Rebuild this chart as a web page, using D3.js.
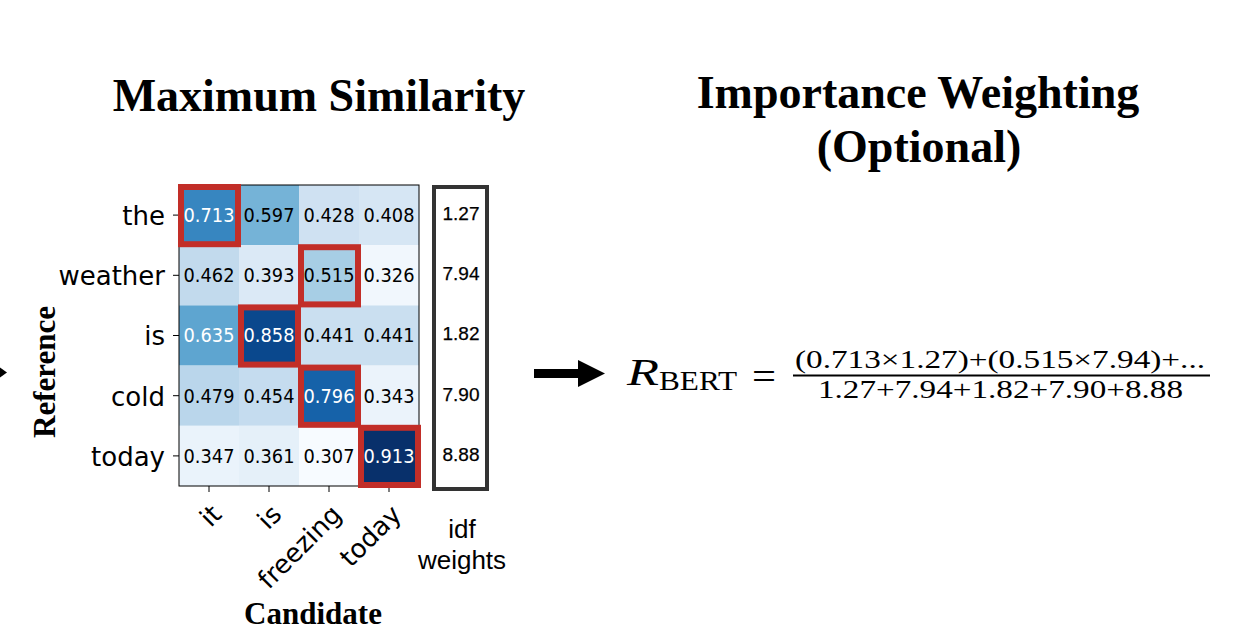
<!DOCTYPE html>
<html>
<head>
<meta charset="UTF-8">
<title>BERTScore - Maximum Similarity</title>
<script src="https://d3js.org/d3.v7.min.js"></script>
<style>
  body { margin: 0; background: #fff; }
  svg { display: block; }
</style>
</head>
<body>
<svg width="1234" height="641"></svg>
<script>
// 数据
var candidates = ["it", "is", "freezing", "today"];
var references = ["the", "weather", "is", "cold", "today"];
var similarity = [
  [0.713, 0.597, 0.428, 0.408],
  [0.462, 0.393, 0.515, 0.326],
  [0.635, 0.858, 0.441, 0.441],
  [0.479, 0.454, 0.796, 0.343],
  [0.347, 0.361, 0.307, 0.913]
];
var idfWeights = [1.27, 7.94, 1.82, 7.90, 8.88];

var serif = "'Liberation Serif', 'Times New Roman', serif";
var sans = "'DejaVu Sans', sans-serif";
var arial = "'Liberation Sans', Arial, sans-serif";

var svg = d3.select("svg");

// 热力图区域
var hm = { left: 179, top: 185, right: 419, bottom: 486 };

var x = d3.scaleBand().domain(candidates).range([hm.left, hm.right]);
var y = d3.scaleBand().domain(references).range([hm.top, hm.bottom]);

var flat = d3.merge(similarity);
var color = d3.scaleSequential(d3.interpolateBlues).domain(d3.extent(flat));
var mid = (d3.min(flat) + d3.max(flat)) / 2;

var cells = [];
similarity.forEach(function(row, i) {
  row.forEach(function(v, j) {
    cells.push({ r: references[i], c: candidates[j], ri: i, v: v });
  });
});

// 每行最大值（红框）
var best = similarity.map(function(row, i) {
  var j = d3.maxIndex(row);
  return { r: references[i], c: candidates[j], v: row[j], w: idfWeights[i] };
});

svg.append("g").selectAll("rect")
  .data(cells).enter().append("rect")
  .attr("x", function(d) { return x(d.c); })
  .attr("y", function(d) { return y(d.r); })
  .attr("width", x.bandwidth())
  .attr("height", y.bandwidth())
  .attr("fill", function(d) { return color(d.v); });

svg.append("g").selectAll("text")
  .data(cells).enter().append("text")
  .attr("x", function(d) { return x(d.c) + x.bandwidth() / 2; })
  .attr("y", function(d) { return y(d.r) + y.bandwidth() / 2; })
  .attr("dy", "0.36em")
  .attr("text-anchor", "middle")
  .attr("font-family", sans)
  .attr("font-size", "19px")
  .attr("textLength", 51).attr("lengthAdjust", "spacingAndGlyphs")
  .attr("fill", function(d) { return d.v > mid ? "#ffffff" : "#000000"; })
  .text(function(d) { return d.v.toFixed(3); });

// 边框
svg.append("rect")
  .attr("x", hm.left).attr("y", hm.top)
  .attr("width", hm.right - hm.left).attr("height", hm.bottom - hm.top)
  .attr("fill", "none").attr("stroke", "#000").attr("stroke-width", 1);

// 坐标轴
var yAxis = svg.append("g")
  .attr("transform", "translate(" + hm.left + ",0)")
  .call(d3.axisLeft(y).tickSize(6).tickPadding(8));
yAxis.select(".domain").remove();
yAxis.selectAll("text")
  .attr("font-family", sans).attr("font-size", "26px").attr("fill", "#000")
  .attr("dy", "0.38em");

var xAxis = svg.append("g")
  .attr("transform", "translate(0," + hm.bottom + ")")
  .call(d3.axisBottom(x).tickSize(6));
xAxis.select(".domain").remove();
xAxis.selectAll("text")
  .attr("font-family", sans).attr("font-size", "26px").attr("fill", "#000")
  .attr("text-anchor", "end")
  .attr("y", 0).attr("dy", 0)
  .attr("transform", "translate(14,30) rotate(-45)");

// 红框
svg.append("g").selectAll("rect")
  .data(best).enter().append("rect")
  .attr("x", function(d) { return x(d.c) + 2; })
  .attr("y", function(d) { return y(d.r) + 2; })
  .attr("width", x.bandwidth() - 3)
  .attr("height", y.bandwidth() - 3)
  .attr("fill", "none")
  .attr("stroke", "#c22e28")
  .attr("stroke-width", 6);

// idf 权重
svg.append("rect")
  .attr("x", 434).attr("y", 187)
  .attr("width", 53).attr("height", 302)
  .attr("fill", "none").attr("stroke", "#333").attr("stroke-width", 4);

svg.append("g").selectAll("text")
  .data(idfWeights).enter().append("text")
  .attr("x", 461)
  .attr("y", function(d, i) { return y(references[i]) + y.bandwidth() / 2 - 2; })
  .attr("dy", "0.36em")
  .attr("text-anchor", "middle")
  .attr("font-family", arial)
  .attr("font-size", "19px")
  .attr("fill", "#000")
  .attr("stroke", "#000").attr("stroke-width", 0.25)
  .text(function(d) { return d.toFixed(2); });

var idfLabel = svg.append("text")
  .attr("text-anchor", "middle")
  .attr("font-family", arial)
  .attr("font-size", "26px")
  .attr("fill", "#000");
idfLabel.append("tspan").attr("x", 462).attr("y", 538).text("idf");
idfLabel.append("tspan").attr("x", 462).attr("y", 569).text("weights");

// 轴标题
svg.append("text")
  .attr("x", 313).attr("y", 624)
  .attr("text-anchor", "middle")
  .attr("font-family", serif).attr("font-weight", "bold").attr("font-size", "31px")
  .text("Candidate");

svg.append("text")
  .attr("transform", "translate(55,372) rotate(-90)")
  .attr("text-anchor", "middle")
  .attr("font-family", serif).attr("font-weight", "bold").attr("font-size", "31px")
  .text("Reference");

// 左侧被截断的箭头
svg.append("path").attr("d", "M0,367.5L7,372.5L0,377.5Z").attr("fill", "#000");

// 标题
svg.append("text")
  .attr("x", 319).attr("y", 111)
  .attr("text-anchor", "middle")
  .attr("font-family", serif).attr("font-weight", "bold").attr("font-size", "46px")
  .text("Maximum Similarity");

var t2 = svg.append("text")
  .attr("text-anchor", "middle")
  .attr("font-family", serif).attr("font-weight", "bold").attr("font-size", "46px");
t2.append("tspan").attr("x", 918).attr("y", 108).text("Importance Weighting");
t2.append("tspan").attr("x", 919).attr("y", 162).text("(Optional)");

// 粗箭头
svg.append("rect").attr("x", 534).attr("y", 369).attr("width", 46).attr("height", 9).attr("fill", "#000");
svg.append("path").attr("d", "M578,360L605,373.5L578,387Z").attr("fill", "#000");

// 公式
svg.append("text")
  .attr("x", 627).attr("y", 385)
  .attr("font-family", serif).attr("font-style", "italic").attr("font-size", "38px")
  .attr("textLength", 32).attr("lengthAdjust", "spacingAndGlyphs")
  .text("R");
svg.append("text")
  .attr("x", 659).attr("y", 390)
  .attr("font-family", serif).attr("font-size", "28px")
  .attr("textLength", 78).attr("lengthAdjust", "spacingAndGlyphs")
  .text("BERT");
svg.append("text")
  .attr("x", 752).attr("y", 389)
  .attr("font-family", serif).attr("font-size", "38px")
  .attr("textLength", 24).attr("lengthAdjust", "spacingAndGlyphs")
  .text("=");

var numerator = best.slice(0, 2).map(function(d) {
  return "(" + d.v.toFixed(3) + "\u00d7" + d.w.toFixed(2) + ")";
}).join("+") + "+...";
var denominator = idfWeights.map(function(d) { return d.toFixed(2); }).join("+");

svg.append("text")
  .attr("x", 795).attr("y", 368)
  .attr("font-family", serif).attr("font-size", "25px")
  .attr("textLength", 410).attr("lengthAdjust", "spacingAndGlyphs")
  .text(numerator);
svg.append("line")
  .attr("x1", 793).attr("x2", 1210).attr("y1", 375.5).attr("y2", 375.5)
  .attr("stroke", "#000").attr("stroke-width", 2);
svg.append("text")
  .attr("x", 818).attr("y", 398)
  .attr("font-family", serif).attr("font-size", "25px")
  .attr("textLength", 365).attr("lengthAdjust", "spacingAndGlyphs")
  .text(denominator);
</script>
</body>
</html>
